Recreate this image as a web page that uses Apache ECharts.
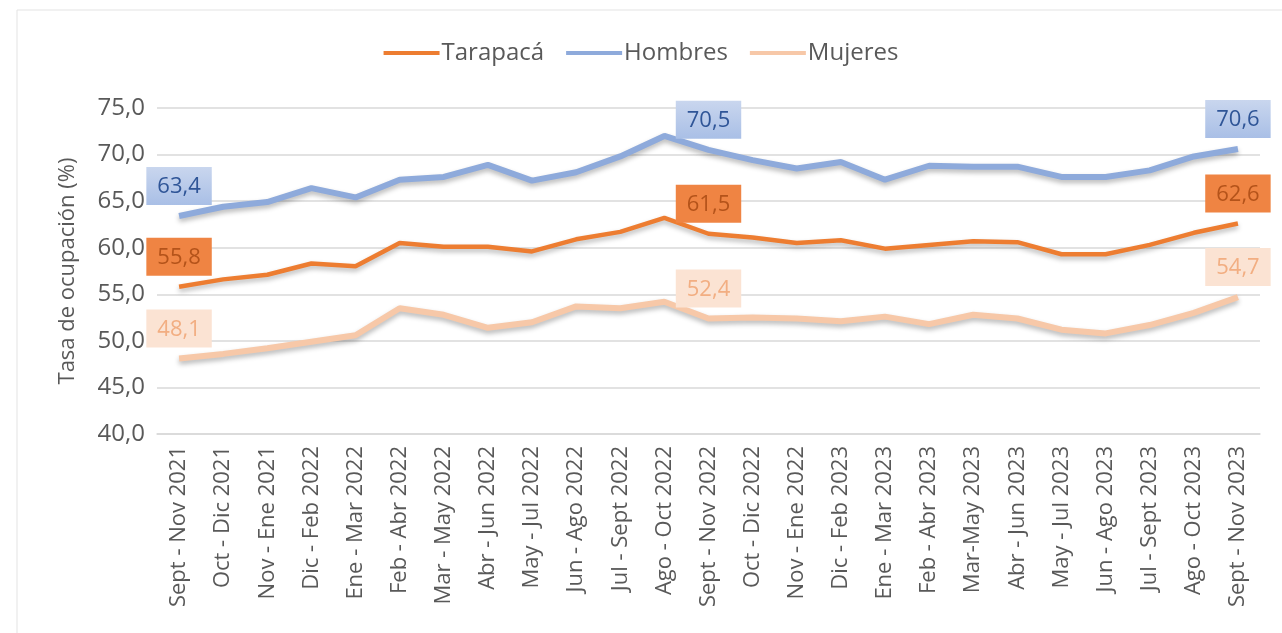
<!DOCTYPE html>
<html>
<head>
<meta charset="utf-8">
<script src="https://cdn.jsdelivr.net/npm/echarts@6/dist/echarts.min.js"></script>
<style>
  html, body { margin: 0; padding: 0; background: #fff; }
  #chart { width: 1282px; height: 633px; }
</style>
</head>
<body>
<div id="chart"></div>
<script>
// categorías (trimestres móviles)
const categories = [
  "Sept - Nov 2021", "Oct - Dic 2021", "Nov - Ene 2021", "Dic - Feb 2022", "Ene - Mar 2022",
  "Feb - Abr 2022", "Mar - May 2022", "Abr - Jun 2022", "May - Jul 2022", "Jun - Ago 2022",
  "Jul - Sept 2022", "Ago - Oct 2022", "Sept - Nov 2022", "Oct - Dic 2022", "Nov - Ene 2022",
  "Dic - Feb 2023", "Ene - Mar 2023", "Feb - Abr 2023", "Mar-May 2023", "Abr - Jun 2023",
  "May - Jul 2023", "Jun - Ago 2023", "Jul - Sept 2023", "Ago - Oct 2023", "Sept - Nov 2023"
];

const tarapaca = [55.8, 56.6, 57.1, 58.3, 58.0, 60.5, 60.1, 60.1, 59.6, 60.9, 61.7, 63.2, 61.5,
  61.1, 60.5, 60.8, 59.9, 60.3, 60.7, 60.6, 59.3, 59.3, 60.3, 61.6, 62.6];
const hombres = [63.4, 64.4, 64.9, 66.4, 65.4, 67.3, 67.6, 68.9, 67.2, 68.1, 69.8, 72.0, 70.5,
  69.4, 68.5, 69.2, 67.3, 68.8, 68.7, 68.7, 67.6, 67.6, 68.3, 69.8, 70.6];
const mujeres = [48.1, 48.6, 49.2, 49.9, 50.6, 53.5, 52.8, 51.4, 52.0, 53.7, 53.5, 54.2, 52.4,
  52.5, 52.4, 52.1, 52.6, 51.8, 52.8, 52.4, 51.2, 50.8, 51.7, 53.0, 54.7];

// puntos con etiqueta de valor
const labelIdx = [0, 12, 24];
const yTicks = [40, 45, 50, 55, 60, 65, 70, 75];

const fmt = v => v.toFixed(1).replace(".", ",");
const FONT = "'Open Sans', sans-serif";

const withLabels = (arr, style) => arr.map((v, i) =>
  labelIdx.includes(i)
    ? { value: v, label: Object.assign({ show: true }, style) }
    : v
);

const labelBase = {
  position: "top",
  distance: 11,
  fontSize: 22,
  fontFamily: FONT,
  padding: [9, 11, 7, 11],
  formatter: p => fmt(p.value)
};

const series = [
  {
    name: "Tarapacá", color: "#ed7d31", width: 4.5, data: tarapaca,
    label: { color: "#b4531a", backgroundColor: "#ef8443" }
  },
  {
    name: "Hombres", color: "#8eaadb", width: 6, data: hombres,
    label: {
      color: "#2f5597",
      backgroundColor: {
        type: "linear", x: 0, y: 0, x2: 0, y2: 1,
        colorStops: [{ offset: 0, color: "#c9d6ee" }, { offset: 1, color: "#a9bfe6" }]
      }
    }
  },
  {
    name: "Mujeres", color: "#f7c8a8", width: 6, data: mujeres,
    label: { color: "#f2ae82", backgroundColor: "#fbe3d3" }
  }
];

const chart = echarts.init(document.getElementById("chart"));

chart.setOption({
  animation: false,
  textStyle: { fontFamily: FONT },
  graphic: [{
    type: "rect",
    shape: { x: 17, y: 10, width: 1300, height: 640 },
    style: { fill: "none", stroke: "#e3e3e3", lineWidth: 1 },
    silent: true
  }],
  legend: {
    top: 36,
    left: "center",
    icon: "rect",
    itemWidth: 56,
    itemHeight: 4,
    itemGap: 22,
    textStyle: { fontSize: 24, color: "#595959", fontFamily: FONT, padding: [0, 0, 0, -3] },
    data: series.map(s => s.name)
  },
  grid: { left: 157, right: 22, top: 108, bottom: 199 },
  xAxis: {
    type: "category",
    data: categories,
    boundaryGap: true,
    axisLine: { lineStyle: { color: "#d9d9d9", width: 1.5 } },
    axisTick: { show: false },
    axisLabel: {
      rotate: 90,
      interval: 0,
      margin: 12,
      fontSize: 22,
      color: "#595959",
      fontFamily: FONT
    }
  },
  yAxis: {
    type: "value",
    min: yTicks[0],
    max: yTicks[yTicks.length - 1],
    interval: 5,
    name: "Tasa de ocupación (%)",
    nameLocation: "middle",
    nameGap: 78,
    nameTextStyle: { fontSize: 22, color: "#595959", fontFamily: FONT },
    axisLine: { show: false },
    axisTick: { show: false },
    axisLabel: {
      margin: 12,
      fontSize: 24,
      color: "#595959",
      fontFamily: FONT,
      formatter: v => fmt(v)
    },
    splitLine: { lineStyle: { color: "#d9d9d9", width: 1.5 } }
  },
  series: series.map(s => ({
    name: s.name,
    type: "line",
    symbol: "circle",
    symbolSize: 0.1,
    showSymbol: true,
    color: s.color,
    itemStyle: { color: s.color },
    lineStyle: {
      color: s.color,
      width: s.width,
      shadowColor: "rgba(0,0,0,0.28)",
      shadowBlur: 5,
      shadowOffsetY: 3
    },
    data: withLabels(s.data, Object.assign({}, labelBase, s.label))
  }))
});

window.addEventListener("resize", () => chart.resize());
</script>
</body>
</html>
